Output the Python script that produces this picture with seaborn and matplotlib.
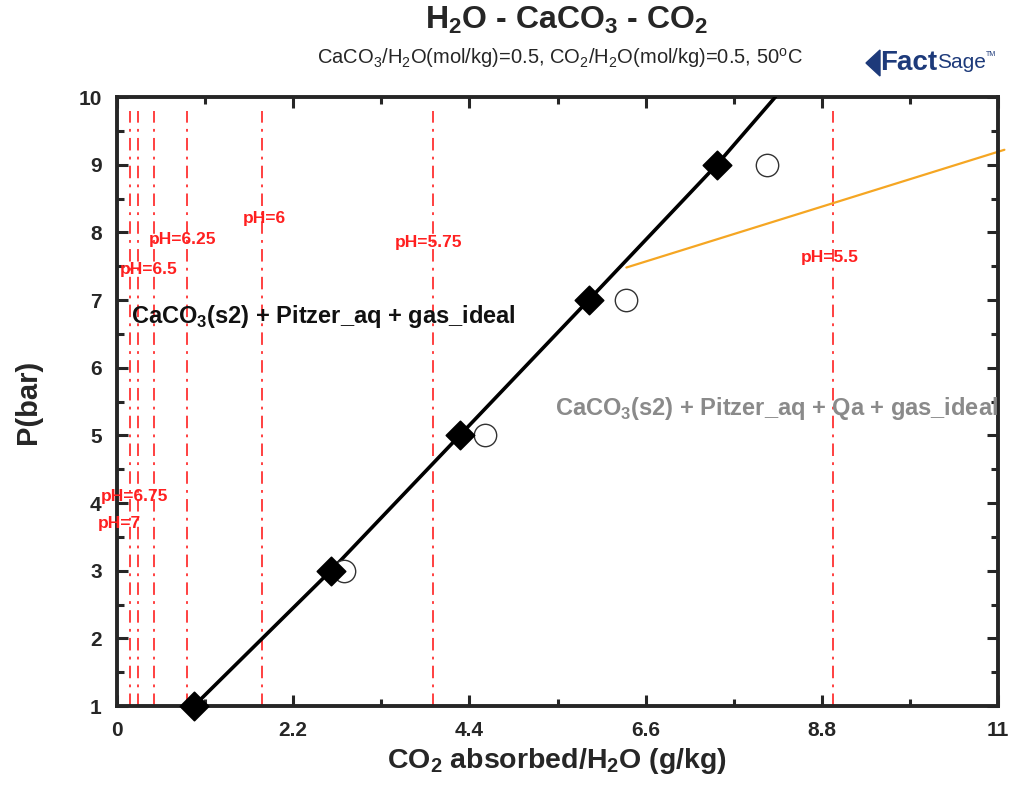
import matplotlib
matplotlib.use("Agg")
import matplotlib.pyplot as plt
import seaborn as sns
import pandas as pd
import numpy as np
from matplotlib.ticker import MultipleLocator

# ---- data ----
diamond_x = [0.96, 2.67, 4.28, 5.89, 7.49]
diamond_p = [1, 3, 5, 7, 9]
line_x = [0.96, 2.67, 4.28, 5.89, 7.49, 8.22]
line_p = [1, 3, 5, 7, 9, 10]
circle_x = [2.83, 4.59, 6.36, 8.12]
circle_p = [3, 5, 7, 9]
orange_x = [6.36, 11.08]
orange_p = [7.48, 9.22]
ph_line_x = [0.16, 0.26, 0.46, 0.87, 1.81, 3.95, 8.94]
ph_labels = ["pH=7", "pH=6.75", "pH=6.5", "pH=6.25", "pH=6", "pH=5.75", "pH=5.5"]
ph_label_x = [-0.24, -0.20, 0.04, 0.40, 1.57, 3.47, 8.54]
ph_label_p = [3.70, 4.09, 7.45, 7.90, 8.21, 7.85, 7.63]
x_ticks = [0, 2.2, 4.4, 6.6, 8.8, 11]
x_ticklabels = ["0", "2.2", "4.4", "6.6", "8.8", "11"]
y_ticks = [1, 2, 3, 4, 5, 6, 7, 8, 9, 10]

sns.set_style("ticks")
plt.rcParams['font.family'] = ['Liberation Sans', 'DejaVu Sans']
plt.rcParams['lines.scale_dashes'] = False
plt.rcParams['mathtext.fontset'] = 'custom'
plt.rcParams['mathtext.rm'] = 'Liberation Sans'
plt.rcParams['mathtext.bf'] = 'Liberation Sans:bold'

fig = plt.figure(figsize=(10.09, 7.85), dpi=100)
ax = fig.add_axes([117/1009, 1-706/785, (998-117)/1009, (706-97)/785])

# pH vertical lines
for xv in ph_line_x:
    ax.plot([xv, xv], [1, 9.8], color="#ff2020", lw=1.2,
            linestyle=(0, (9, 4.5, 2, 4.5)), zorder=1)

# orange line
ax.plot(orange_x, orange_p, color="#f5a623", lw=1.6, zorder=2, clip_on=False)

# black line and diamonds
df_line = pd.DataFrame({"x": line_x, "p": line_p})
sns.lineplot(data=df_line, x="x", y="p", ax=ax, color="black", lw=2.6,
             sort=False, estimator=None, zorder=3)
df_d = pd.DataFrame({"x": diamond_x, "p": diamond_p})
sns.scatterplot(data=df_d, x="x", y="p", ax=ax, marker="D", s=210,
                color="black", edgecolor="black", zorder=5, clip_on=False)
df_c = pd.DataFrame({"x": circle_x, "p": circle_p})
sns.scatterplot(data=df_c, x="x", y="p", ax=ax, marker="o", s=260,
                facecolor="white", edgecolor="#333333", linewidth=1.0, zorder=4)

# pH labels
for lab, xl, yl in zip(ph_labels, ph_label_x, ph_label_p):
    ax.text(xl, yl, lab, color="#ff2020", fontsize=12.5, fontweight="bold",
            ha="left", va="center", clip_on=False, zorder=6)

# phase region labels
ax.text(0.17, 6.76, r"CaCO$_\mathbf{3}$(s2) + Pitzer_aq + gas_ideal", color="#111111",
        fontsize=17, fontweight="bold", ha="left", va="center", zorder=6)
ax.text(5.47, 5.40, r"CaCO$_\mathbf{3}$(s2) + Pitzer_aq + Qa + gas_ideal", color="#8a8a8a",
        fontsize=17, fontweight="bold", ha="left", va="center", zorder=6, clip_on=True)

ax.set_xlim(0, 11)
ax.set_ylim(1, 10)
ax.set_xticks(x_ticks)
ax.set_xticklabels(x_ticklabels)
ax.set_yticks(y_ticks)
ax.xaxis.set_minor_locator(MultipleLocator(1.1))
ax.yaxis.set_minor_locator(MultipleLocator(0.5))
ax.tick_params(which="both", direction="in", top=True, right=True, width=2.2,
               labelsize=15, pad=11)
ax.tick_params(which="major", length=8)
ax.tick_params(which="minor", length=5)
for lab in ax.get_xticklabels() + ax.get_yticklabels():
    lab.set_fontweight("bold")
for sp in ax.spines.values():
    sp.set_linewidth(2.8)
    sp.set_visible(True)

ax.set_xlabel(r"CO$_\mathbf{2}$ absorbed/H$_\mathbf{2}$O (g/kg)", fontsize=20.5,
              fontweight="bold", labelpad=4)
ax.set_ylabel("P(bar)", fontsize=21, fontweight="bold", labelpad=26)

# titles
fig.text(566/1009, 1-20/785, r"H$_\mathbf{2}$O - CaCO$_\mathbf{3}$ - CO$_\mathbf{2}$",
         fontsize=23, fontweight="bold", ha="center", va="center")
fig.text(560/1009, 1-58/785,
         r"CaCO$_3$/H$_2$O(mol/kg)=0.5, CO$_2$/H$_2$O(mol/kg)=0.5, 50$^{\rm o}$C",
         fontsize=14.5, ha="center", va="center")

# logo text
t1 = fig.text(880/1009, 1-63/785, "Fact", fontsize=20, fontweight="bold",
              color="#1d3a7a", ha="left", va="center")
fig.canvas.draw()
bb = t1.get_window_extent()
x2 = bb.x1 / fig.bbox.width
t2 = fig.text(x2, 1-63/785, "Sage", fontsize=15, color="#1d3a7a",
              ha="left", va="center")
fig.canvas.draw()
bb2 = t2.get_window_extent()
fig.text(bb2.x1 / fig.bbox.width, 1-55/785, "TM", fontsize=5, color="#1d3a7a",
         ha="left", va="center")
# small wedge of the logo
fig.patches.append(plt.Polygon([[866/1009, 1-63/785], [880/1009, 1-50/785],
                                [880/1009, 1-76/785]], closed=True,
                               transform=fig.transFigure, color="#1d3a7a"))

fig.savefig("out.png", dpi=100)
